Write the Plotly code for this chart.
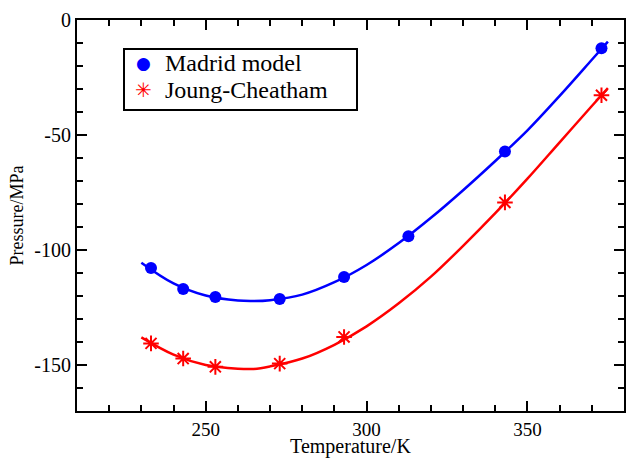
import plotly.graph_objects as go

# Simulation points
madrid_T = [233, 243, 253, 273, 293, 313, 343, 373]
madrid_P = [-107.8, -117.0, -120.4, -121.3, -111.7, -94.0, -57.2, -12.3]

jc_T = [233, 243, 253, 273, 293, 343, 373]
jc_P = [-140.6, -147.2, -150.8, -149.4, -137.8, -79.3, -32.7]

# Fitted curves
fit_T = [230, 240, 250, 260, 265, 270, 280, 290, 300, 310, 320, 330, 340, 350, 360, 370, 375]
madrid_fit = [-105.5, -114.5, -119.8, -122.0, -122.2, -121.8, -119.4, -114.0, -106.5, -97.0,
              -86.0, -74.0, -61.3, -48.0, -33.0, -17.3, -9.4]
jc_fit = [-138.0, -145.5, -150.0, -151.6, -151.7, -150.6, -147.2, -141.2, -133.2, -123.2,
          -111.6, -98.2, -84.0, -69.0, -53.2, -37.4, -29.6]

# Tick labels
x_tickvals = [250, 300, 350]
x_ticktext = ["250", "300", "350"]
y_tickvals = [0, -50, -100, -150]
y_ticktext = ["0", "-50", "-100", "-150"]

legend_names = ["Madrid model", "Joung-Cheatham"]

BLUE = "#0000ff"
RED = "#ff0000"
FONT = "Liberation Serif"

fig = go.Figure()
fig.add_trace(go.Scatter(x=fit_T, y=madrid_fit, mode="lines", line=dict(color=BLUE, width=2.5, shape="spline"),
                         showlegend=False, hoverinfo="skip"))
fig.add_trace(go.Scatter(x=fit_T, y=jc_fit, mode="lines", line=dict(color=RED, width=2.5, shape="spline"),
                         showlegend=False, hoverinfo="skip"))
fig.add_trace(go.Scatter(x=madrid_T, y=madrid_P, mode="markers", name=legend_names[0], showlegend=False,
                         marker=dict(symbol="circle", size=12, color=BLUE)))
fig.add_trace(go.Scatter(x=jc_T, y=jc_P, mode="markers", name=legend_names[1], showlegend=False,
                         marker=dict(symbol="asterisk-open", size=13, color=RED, line=dict(color=RED, width=2))))

axis_common = dict(
    showline=True, linecolor="black", linewidth=2, mirror="ticks",
    ticks="inside", ticklen=10, tickwidth=2, tickcolor="black",
    showgrid=False, zeroline=False,
)
minor_common = dict(ticks="inside", ticklen=6, tickwidth=2, dtick=10, tick0=0, tickcolor="black", showgrid=False)

fig.update_xaxes(range=[210, 380], tickmode="array", tickvals=x_tickvals, ticktext=x_ticktext,
                 minor=minor_common, tickfont=dict(family=FONT, size=19, color="black"),
                 title=dict(text="Temperature/K", font=dict(family=FONT, size=20, color="black"), standoff=4),
                 **axis_common)
fig.update_yaxes(range=[-170, 0], tickmode="array", tickvals=y_tickvals, ticktext=y_ticktext,
                 minor=minor_common, tickfont=dict(family=FONT, size=20, color="black"),
                 title=dict(text="Pressure/MPa", font=dict(family=FONT, size=18, color="black"), standoff=6),
                 **axis_common)

# Legend drawn as box + text (plot area spans 77..624 x, 20..411 y in pixels)
PW, PH, L, B = 547.0, 391.0, 77.0, 411.0
def px(x):
    return (x - L) / PW
def py(y):
    return (B - y) / PH

fig.add_shape(type="rect", xref="paper", yref="paper",
              x0=px(124), x1=px(357), y0=py(110), y1=py(49),
              line=dict(color="black", width=2), fillcolor="white", layer="below")
row_y = [63, 90]
fig.add_annotation(xref="paper", yref="paper", x=px(143), y=py(row_y[0]), text="●",
                   showarrow=False, xanchor="center", yanchor="middle",
                   font=dict(family="DejaVu Sans", size=17, color=BLUE))
fig.add_annotation(xref="paper", yref="paper", x=px(143), y=py(row_y[1]), text="✳",
                   showarrow=False, xanchor="center", yanchor="middle",
                   font=dict(family="DejaVu Sans", size=20, color=RED))
for name, ry in zip(legend_names, row_y):
    fig.add_annotation(xref="paper", yref="paper", x=px(163), y=py(ry), text=name,
                       showarrow=False, xanchor="left", yanchor="middle",
                       font=dict(family=FONT, size=24, color="black"))

fig.update_layout(
    width=626, height=458,
    margin=dict(l=77, r=2, t=20, b=47, autoexpand=False),
    paper_bgcolor="white", plot_bgcolor="white",
    showlegend=False,
)

fig.write_html("out.html", config={"displayModeBar": False},
               post_script="document.body.style.margin='0';document.body.style.padding='0';"
                           "document.body.style.overflow='hidden';")
